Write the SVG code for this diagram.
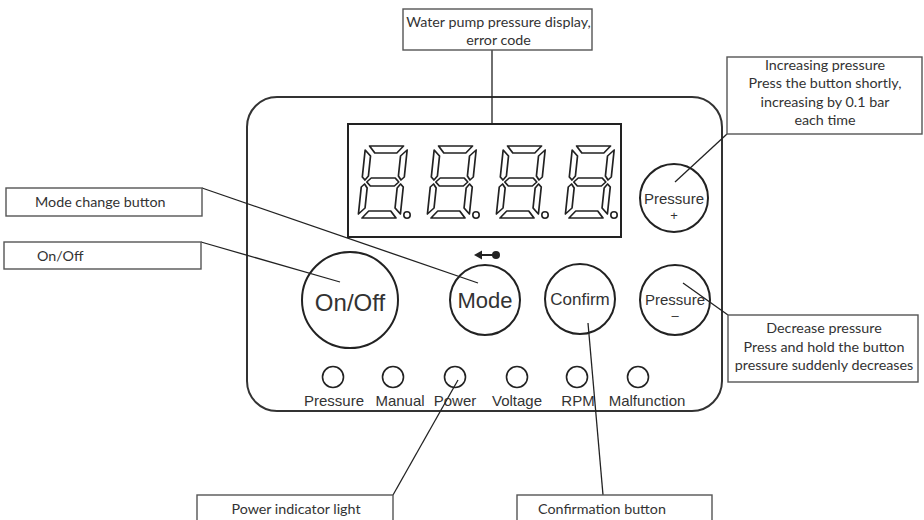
<svg xmlns="http://www.w3.org/2000/svg" xmlns:xlink="http://www.w3.org/1999/xlink" width="924" height="520" viewBox="0 0 924 520">
<style>
.lbl{fill:#fff;stroke:#555;stroke-width:1.4}
.lt{font-family:Lato,"Liberation Sans",sans-serif;font-size:14.3px;fill:#333}
.bt{font-family:"Liberation Sans",Arial,sans-serif;fill:#333}
.btn{fill:#fff;stroke:#222;stroke-width:2}
.led{fill:#fff;stroke:#222;stroke-width:1.6}
.seg{fill:#fff;stroke:#222;stroke-width:1.7;stroke-linejoin:round}
.con{stroke:#222;stroke-width:1.3;fill:none}
</style>
<defs>
<g id="digit" class="seg">
<polygon points="4,0 38,0 32,7 10,7"/>
<polygon points="0,4 6,10 6,30 3,34 0,31"/>
<polygon points="42,4 42,31 39,34 36,30 36,10"/>
<polygon points="5,36 9,32 33,32 37,36 33,40 9,40"/>
<polygon points="0,41 3,38 6,42 6,62 0,68"/>
<polygon points="42,41 39,38 36,42 36,62 42,68"/>
<polygon points="4,72 10,65 32,65 38,72"/>
</g>
</defs>
<rect width="924" height="520" fill="#fff"/>
<g id="panel">
<rect x="247" y="97" width="475" height="314" rx="30" fill="none" stroke="#333" stroke-width="2"/>
</g>
<g id="display">
<rect x="348" y="124" width="273" height="113" fill="#fff" stroke="#222" stroke-width="2"/>
<use xlink:href="#digit" transform="translate(358,218) skewX(-6) translate(0,-72)"/>
<use xlink:href="#digit" transform="translate(427,218) skewX(-6) translate(0,-72)"/>
<use xlink:href="#digit" transform="translate(496,218) skewX(-6) translate(0,-72)"/>
<use xlink:href="#digit" transform="translate(565,218) skewX(-6) translate(0,-72)"/>
<circle cx="407" cy="215" r="3.2" class="led"/>
<circle cx="476" cy="215" r="3.2" class="led"/>
<circle cx="545" cy="215" r="3.2" class="led"/>
<circle cx="614" cy="215" r="3.2" class="led"/>
</g>
<g id="btn-onoff">
<circle cx="350" cy="300" r="48" class="btn"/>
<text x="350" y="311" text-anchor="middle" class="bt" font-size="24">On/Off</text>
</g>
<g id="btn-mode">
<circle cx="485" cy="300" r="35" class="btn"/>
<text x="485" y="308" text-anchor="middle" class="bt" font-size="22">Mode</text>
<line x1="480" y1="255" x2="496" y2="255" stroke="#222" stroke-width="2"/>
<polygon points="474,255 482,250.5 482,259.5" fill="#222"/>
<circle cx="496" cy="255" r="4" fill="#222"/>
</g>
<g id="btn-confirm">
<circle cx="580" cy="299" r="35" class="btn"/>
<text x="580" y="305" text-anchor="middle" class="bt" font-size="17">Confirm</text>
</g>
<g id="btn-plus">
<circle cx="674" cy="198" r="34" class="btn"/>
<text x="674" y="204" text-anchor="middle" class="bt" font-size="15">Pressure</text>
<text x="674" y="220" text-anchor="middle" class="bt" font-size="13">+</text>
</g>
<g id="btn-minus">
<circle cx="675" cy="300" r="35" class="btn"/>
<text x="675" y="305" text-anchor="middle" class="bt" font-size="15">Pressure</text>
<text x="675" y="320" text-anchor="middle" class="bt" font-size="13">–</text>
</g>
<g id="leds">
<circle cx="333" cy="377" r="10.5" class="led"/>
<circle cx="393" cy="377" r="10.5" class="led"/>
<circle cx="455" cy="377" r="10.5" class="led"/>
<circle cx="517" cy="377" r="10.5" class="led"/>
<circle cx="577" cy="377" r="10.5" class="led"/>
<circle cx="638" cy="377" r="10.5" class="led"/>
<g class="bt" font-size="15" text-anchor="middle">
<text x="334" y="406">Pressure</text>
<text x="400" y="406">Manual</text>
<text x="455" y="406">Power</text>
<text x="517" y="406">Voltage</text>
<text x="578" y="406">RPM</text>
<text x="647" y="406">Malfunction</text>
</g>
</g>
<g id="connectors" class="con">
<line x1="492" y1="50" x2="492" y2="124"/>
<line x1="727" y1="134" x2="675" y2="182"/>
<line x1="728" y1="315" x2="683" y2="283"/>
<line x1="202" y1="188" x2="478" y2="283"/>
<line x1="201" y1="242" x2="340" y2="282"/>
<line x1="393" y1="495" x2="458" y2="380"/>
<line x1="603" y1="495" x2="588" y2="323"/>
</g>
<g id="label-display">
<rect x="403" y="9" width="189" height="41" class="lbl"/>
<text x="498.5" y="27" text-anchor="middle" class="lt" font-size="13">Water pump pressure display,</text>
<text x="498.5" y="45" text-anchor="middle" class="lt" font-size="13">error code</text>
</g>
<g id="label-plus">
<rect x="727" y="57" width="195" height="77" class="lbl"/>
<g class="lt" text-anchor="middle">
<text x="825" y="70">Increasing pressure</text>
<text x="825" y="88">Press the button shortly,</text>
<text x="825" y="107">increasing by 0.1 bar</text>
<text x="825" y="125">each time</text>
</g>
</g>
<g id="label-minus">
<rect x="728" y="315" width="190" height="67" class="lbl"/>
<g class="lt" text-anchor="middle">
<text x="824" y="333">Decrease pressure</text>
<text x="824" y="352">Press and hold the button</text>
<text x="824" y="370">pressure suddenly decreases</text>
</g>
</g>
<g id="label-mode">
<rect x="6" y="188" width="196" height="28" class="lbl"/>
<text x="35" y="207" class="lt">Mode change button</text>
</g>
<g id="label-onoff">
<rect x="4" y="242" width="197" height="27" class="lbl"/>
<text x="37" y="261" class="lt">On/Off</text>
</g>
<g id="label-power">
<rect x="197" y="495" width="196" height="30" class="lbl"/>
<text x="296" y="514" text-anchor="middle" class="lt">Power indicator light</text>
</g>
<g id="label-confirm">
<rect x="517" y="495" width="195" height="30" class="lbl"/>
<text x="602" y="514" text-anchor="middle" class="lt">Confirmation button</text>
</g>
</svg>
